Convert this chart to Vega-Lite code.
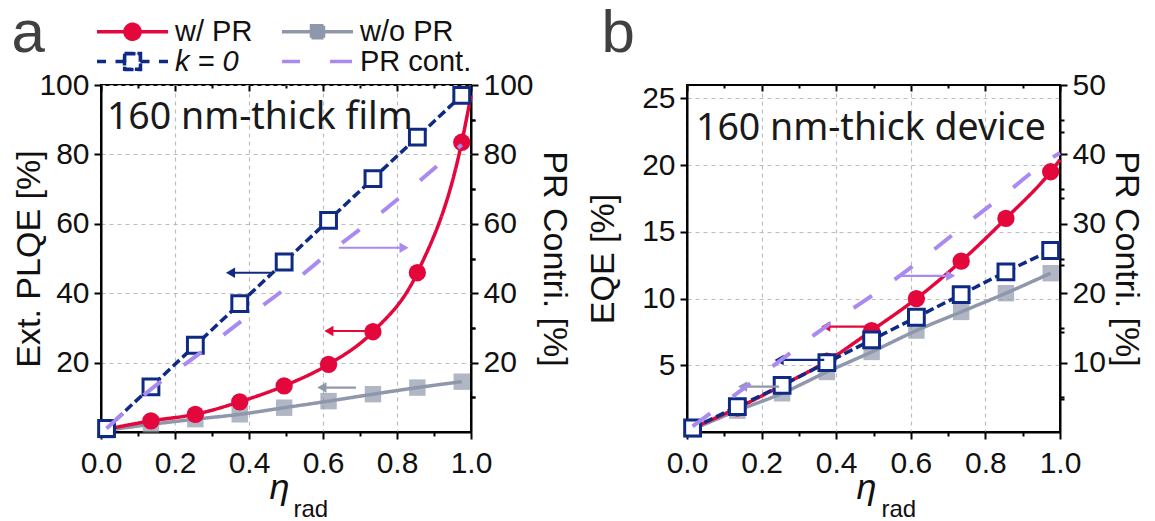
{
  "$schema": "https://vega.github.io/schema/vega-lite/v6.json",
  "background": "white",
  "padding": {"left": 10, "top": 2, "right": 4, "bottom": 0},
  "config": {
    "view": {"stroke": "black", "strokeWidth": 2},
    "font": "Liberation Sans",
    "axis": {"domainColor": "black", "domainWidth": 2, "tickColor": "black", "tickWidth": 2, "labelFont": "Liberation Sans", "labelFontSize": 30, "labelColor": "#111", "titleFont": "Liberation Sans", "titleFontSize": 34, "titleFontWeight": "normal", "titleColor": "#111", "gridColor": "#bdbdbd", "gridDash": [4, 4], "gridWidth": 1.2, "labelOverlap": false, "labelFlush": false},
    "legend": {"columnPadding": 22, "rowPadding": -2, "gridAlign": "each"},
    "concat": {"spacing": 13}
  },
  "datasets": {
    "a_main": [
      {"series": "w/o PR", "x": 0.015, "y": 0.5}, {"series": "w/o PR", "x": 0.135, "y": 2.2}, {"series": "w/o PR", "x": 0.255, "y": 3.7}, {"series": "w/o PR", "x": 0.375, "y": 5.1}, {"series": "w/o PR", "x": 0.495, "y": 7.0}, {"series": "w/o PR", "x": 0.615, "y": 8.9}, {"series": "w/o PR", "x": 0.735, "y": 10.9}, {"series": "w/o PR", "x": 0.855, "y": 12.8}, {"series": "w/o PR", "x": 0.975, "y": 14.5},
      {"series": "w/ PR", "x": 0.015, "y": 0.8}, {"series": "w/ PR", "x": 0.135, "y": 3.2}, {"series": "w/ PR", "x": 0.255, "y": 5.1}, {"series": "w/ PR", "x": 0.375, "y": 8.7}, {"series": "w/ PR", "x": 0.495, "y": 13.3}, {"series": "w/ PR", "x": 0.615, "y": 19.5}, {"series": "w/ PR", "x": 0.735, "y": 28.9}, {"series": "w/ PR", "x": 0.855, "y": 45.9}, {"series": "w/ PR", "x": 0.975, "y": 83.5}, {"series": "w/ PR", "x": 1.0, "y": 97},
      {"series": "k = 0", "x": 0.015, "y": 1}, {"series": "k = 0", "x": 0.135, "y": 13}, {"series": "k = 0", "x": 0.255, "y": 25}, {"series": "k = 0", "x": 0.375, "y": 37}, {"series": "k = 0", "x": 0.495, "y": 49}, {"series": "k = 0", "x": 0.615, "y": 61}, {"series": "k = 0", "x": 0.735, "y": 73}, {"series": "k = 0", "x": 0.855, "y": 85}, {"series": "k = 0", "x": 0.975, "y": 97}
    ],
    "a_pr": [
      {"series": "PR cont.", "x": 0.015, "y": 1}, {"series": "PR cont.", "x": 0.135, "y": 12.3}, {"series": "PR cont.", "x": 0.255, "y": 21.7}, {"series": "PR cont.", "x": 0.375, "y": 31.6}, {"series": "PR cont.", "x": 0.495, "y": 41.1}, {"series": "PR cont.", "x": 0.615, "y": 51.5}, {"series": "PR cont.", "x": 0.735, "y": 61.3}, {"series": "PR cont.", "x": 0.855, "y": 71.8}, {"series": "PR cont.", "x": 0.975, "y": 82.8}
    ],
    "a_arrows": [
      {"series": "k = 0", "xs": 0.459, "xe": 0.35, "y": 45.9, "dir": "left"},
      {"series": "PR cont.", "xs": 0.643, "xe": 0.819, "y": 53.1, "dir": "right"},
      {"series": "w/ PR", "xs": 0.719, "xe": 0.616, "y": 29.1, "dir": "left"},
      {"series": "w/o PR", "xs": 0.689, "xe": 0.597, "y": 12.8, "dir": "left"}
    ],
    "a_text": [{"label": "160 nm-thick film", "x": 0.016, "y": 90.5}],
    "b_main": [
      {"series": "w/o PR", "x": 0.015, "y": 0.2}, {"series": "w/o PR", "x": 0.135, "y": 1.6}, {"series": "w/o PR", "x": 0.255, "y": 2.9}, {"series": "w/o PR", "x": 0.375, "y": 4.5}, {"series": "w/o PR", "x": 0.495, "y": 6.0}, {"series": "w/o PR", "x": 0.615, "y": 7.6}, {"series": "w/o PR", "x": 0.735, "y": 9.0}, {"series": "w/o PR", "x": 0.855, "y": 10.4}, {"series": "w/o PR", "x": 0.975, "y": 11.9},
      {"series": "w/ PR", "x": 0.015, "y": 0.3}, {"series": "w/ PR", "x": 0.135, "y": 1.8}, {"series": "w/ PR", "x": 0.255, "y": 3.5}, {"series": "w/ PR", "x": 0.375, "y": 5.3}, {"series": "w/ PR", "x": 0.495, "y": 7.6}, {"series": "w/ PR", "x": 0.615, "y": 10.0}, {"series": "w/ PR", "x": 0.735, "y": 12.8}, {"series": "w/ PR", "x": 0.855, "y": 16.0}, {"series": "w/ PR", "x": 0.975, "y": 19.5}, {"series": "w/ PR", "x": 1.0, "y": 20.4},
      {"series": "k = 0", "x": 0.015, "y": 0.3}, {"series": "k = 0", "x": 0.135, "y": 1.9}, {"series": "k = 0", "x": 0.255, "y": 3.5}, {"series": "k = 0", "x": 0.375, "y": 5.2}, {"series": "k = 0", "x": 0.495, "y": 6.9}, {"series": "k = 0", "x": 0.615, "y": 8.6}, {"series": "k = 0", "x": 0.735, "y": 10.3}, {"series": "k = 0", "x": 0.855, "y": 12.0}, {"series": "k = 0", "x": 0.975, "y": 13.6}
    ],
    "b_pr": [
      {"series": "PR cont.", "x": 0.015, "y": 0.8}, {"series": "PR cont.", "x": 0.135, "y": 5.6}, {"series": "PR cont.", "x": 0.255, "y": 10.5}, {"series": "PR cont.", "x": 0.375, "y": 15.3}, {"series": "PR cont.", "x": 0.495, "y": 19.6}, {"series": "PR cont.", "x": 0.615, "y": 24.3}, {"series": "PR cont.", "x": 0.735, "y": 29.4}, {"series": "PR cont.", "x": 0.855, "y": 34.4}, {"series": "PR cont.", "x": 0.975, "y": 39.4}, {"series": "PR cont.", "x": 1.0, "y": 40.2}
    ],
    "b_arrows": [
      {"series": "PR cont.", "xs": 0.573, "xe": 0.707, "y": 11.7, "dir": "right"},
      {"series": "w/ PR", "xs": 0.488, "xe": 0.372, "y": 7.9, "dir": "left"},
      {"series": "k = 0", "xs": 0.368, "xe": 0.247, "y": 5.4, "dir": "left"},
      {"series": "w/o PR", "xs": 0.247, "xe": 0.149, "y": 3.4, "dir": "left"}
    ],
    "b_text": [{"label": "160 nm-thick device", "x": 0.024, "y": 22.7}]
  },
  "hconcat": [
    {
      "width": 370, "height": 347,
      "layer": [
        {
          "layer": [
            {"data": {"name": "a_main"}, "mark": {"type": "line", "strokeWidth": 3.5, "interpolate": "monotone"},
             "encoding": {
               "x": {"field": "x", "type": "quantitative", "scale": {"domain": [0, 1]}, "axis": {"orient": "bottom", "values": [0, 0.2, 0.4, 0.6, 0.8, 1], "format": ".1f", "tickSize": 7, "grid": true, "labelPadding": 9, "title": "η", "titleFontStyle": "italic", "titleFontSize": 36, "titleX": 178, "titleY": 66, "titleBaseline": "alphabetic", "titleAlign": "center"}},
               "y": {"field": "y", "type": "quantitative", "scale": {"domain": [0, 100]}, "axis": {"values": [20, 40, 60, 80, 100], "tickSize": 7, "grid": true, "labelPadding": 5, "title": "Ext. PLQE [%]", "titlePadding": -8}},
               "color": {"field": "series", "type": "nominal", "scale": {"domain": ["w/ PR", "w/o PR", "k = 0", "PR cont."], "range": ["#E3073C", "#8F97AB", "#0F2A85", "#A98AF0"]},
                 "legend": {"orient": "none", "legendX": 17, "legendY": -68, "columns": 2, "direction": "horizontal", "gridAlign": "each", "title": null, "labelFont": "Liberation Sans", "labelFontSize": 29, "labelColor": "#111", "symbolSize": 100, "symbolStrokeWidth": 3.5, "labelOffset": 28, "columnPadding": 22, "rowPadding": -2,
                   "encode": {
                     "symbols": {"update": {
                       "shape": {"signal": "datum.value === 'w/ PR' ? 'M-7.1,0H7.1M-1.5,0A1.5,1.5 0 1,0 1.5,0A1.5,1.5 0 1,0 -1.5,0Z' : datum.value === 'w/o PR' ? 'M-7.1,0H7.1M-1.2,-1.2H1.2V1.2H-1.2Z' : datum.value === 'k = 0' ? 'M-7.1,0H-5.3M-3.4,0H-1.6M1.6,0H3.4M5.3,0H7.1M-1.6,-1.6H1.6V1.6H-1.6ZM-1.57,-1.57V1.57H1.57V-1.57Z' : 'M-7.1,0H-3.5M2.5,0H7.1'"}
                     }},
                     "labels": {"update": {"fontStyle": {"signal": "datum.value === 'k = 0' ? 'italic' : 'normal'"}}}
                   }}},
               "strokeDash": {"field": "series", "type": "nominal", "scale": {"domain": ["w/ PR", "w/o PR", "k = 0", "PR cont."], "range": [[1, 0], [1, 0], [9, 4], [22, 28]]}, "legend": null}
             }},
            {"data": {"name": "a_main"}, "transform": [{"filter": "datum.series === 'w/o PR' && datum.x < 0.99"}], "mark": {"type": "square", "size": 270, "filled": true, "color": "#8F97AB"},
             "encoding": {
               "x": {"field": "x", "type": "quantitative", "axis": {"orient": "bottom", "values": [0.1, 0.3, 0.5, 0.7, 0.9], "labels": false, "domain": false, "grid": false, "tickSize": 4, "title": "rad", "titleFontSize": 24, "titleFontStyle": "normal", "titleX": 192, "titleY": 84, "titleAlign": "left", "titleBaseline": "alphabetic"}},
               "y": {"field": "y", "type": "quantitative", "axis": {"values": [10, 30, 50, 70, 90], "labels": false, "domain": false, "grid": false, "tickSize": 4, "title": null}}}},
            {"data": {"name": "a_main"}, "transform": [{"filter": "datum.series === 'w/ PR' && datum.x < 0.99"}], "mark": {"type": "circle", "size": 300, "color": "#E3073C", "opacity": 1},
             "encoding": {"x": {"field": "x", "type": "quantitative", "axis": null}, "y": {"field": "y", "type": "quantitative", "axis": null}}},
            {"data": {"name": "a_main"}, "transform": [{"filter": "datum.series === 'k = 0' && datum.x < 0.99"}], "mark": {"type": "square", "size": 250, "filled": false, "fill": "white", "stroke": "#0F2A85", "strokeWidth": 3, "opacity": 1},
             "encoding": {"x": {"field": "x", "type": "quantitative", "axis": null}, "y": {"field": "y", "type": "quantitative", "axis": null}}},
            {"data": {"name": "a_arrows"}, "mark": {"type": "rule", "strokeWidth": 2.2},
             "encoding": {"x": {"field": "xs", "type": "quantitative", "axis": null}, "x2": {"field": "xe"}, "y": {"field": "y", "type": "quantitative", "axis": null}, "color": {"field": "series", "type": "nominal"}}},
            {"data": {"name": "a_arrows"}, "mark": {"type": "point", "filled": true, "size": 110, "opacity": 1},
             "encoding": {"x": {"field": "xe", "type": "quantitative", "axis": null}, "y": {"field": "y", "type": "quantitative", "axis": null}, "color": {"field": "series", "type": "nominal"}, "shape": {"field": "dir", "type": "nominal", "scale": {"domain": ["left", "right"], "range": ["triangle-left", "triangle-right"]}, "legend": null}}},
            {"data": {"name": "a_text"}, "mark": {"type": "text", "align": "left", "baseline": "middle", "font": "Noto Sans", "fontSize": 37.5, "color": "#1a1a1a"},
             "encoding": {"x": {"field": "x", "type": "quantitative", "axis": null}, "y": {"field": "y", "type": "quantitative", "axis": null}, "text": {"field": "label"}}}
          ],
          "resolve": {"axis": {"x": "independent", "y": "independent"}}
        },
        {
          "layer": [
            {"data": {"name": "a_pr"}, "mark": {"type": "line", "strokeWidth": 4, "interpolate": "monotone"},
             "encoding": {
               "x": {"field": "x", "type": "quantitative", "scale": {"domain": [0, 1]}, "axis": {"orient": "top", "values": [0, 0.1, 0.2, 0.3, 0.4, 0.5, 0.6, 0.7, 0.8, 0.9, 1], "labels": false, "domain": false, "grid": false, "tickSize": {"condition": {"test": "round(datum.value*10) % 2 === 1", "value": -3}, "value": -6}, "title": "a", "titleFont": "Liberation Sans", "titleFontSize": 60, "titleColor": "#404040", "titleAngle": 0, "titleX": -90, "titleY": -34, "titleAlign": "left", "titleBaseline": "alphabetic"}},
               "y": {"field": "y", "type": "quantitative", "scale": {"domain": [0, 100]}, "axis": {"orient": "right", "values": [10, 20, 30, 40, 50, 60, 70, 80, 90, 100], "labelExpr": "datum.value % 20 === 0 ? datum.label : ''", "tickSize": {"condition": {"test": "datum.value % 20 !== 0", "value": 4}, "value": 7}, "grid": false, "labelPadding": 5, "title": "PR Contri. [%]", "titlePadding": 3.5}},
               "color": {"field": "series", "type": "nominal"},
               "strokeDash": {"field": "series", "type": "nominal", "legend": null}
             }}
          ]
        }
      ],
      "resolve": {"scale": {"y": "independent"}, "axis": {"x": "independent"}}
    },
    {
      "width": 373, "height": 347,
      "layer": [
        {
          "layer": [
            {"data": {"name": "b_main"}, "mark": {"type": "line", "strokeWidth": 3.5, "interpolate": "monotone"},
             "encoding": {
               "x": {"field": "x", "type": "quantitative", "scale": {"domain": [0, 1]}, "axis": {"orient": "bottom", "values": [0, 0.2, 0.4, 0.6, 0.8, 1], "format": ".1f", "tickSize": 7, "grid": true, "labelPadding": 9, "title": "η", "titleFontStyle": "italic", "titleFontSize": 36, "titleX": 179, "titleY": 66, "titleBaseline": "alphabetic", "titleAlign": "center"}},
               "y": {"field": "y", "type": "quantitative", "scale": {"domain": [0, 25]}, "axis": {"values": [5, 10, 15, 20, 25], "tickSize": 7, "grid": true, "labelPadding": 5, "title": "EQE [%]", "titlePadding": 21}},
               "color": {"field": "series", "type": "nominal"},
               "strokeDash": {"field": "series", "type": "nominal", "legend": null}
             }},
            {"data": {"name": "b_main"}, "transform": [{"filter": "datum.series === 'w/o PR' && datum.x < 0.99"}], "mark": {"type": "square", "size": 270, "filled": true, "color": "#8F97AB"},
             "encoding": {
               "x": {"field": "x", "type": "quantitative", "axis": {"orient": "bottom", "values": [0.1, 0.3, 0.5, 0.7, 0.9], "labels": false, "domain": false, "grid": false, "tickSize": 4, "title": "rad", "titleFontSize": 24, "titleFontStyle": "normal", "titleX": 194, "titleY": 84, "titleAlign": "left", "titleBaseline": "alphabetic"}},
               "y": {"field": "y", "type": "quantitative", "axis": {"values": [2.5, 7.5, 12.5, 17.5, 22.5], "labels": false, "domain": false, "grid": false, "tickSize": 4, "title": null}}}},
            {"data": {"name": "b_main"}, "transform": [{"filter": "datum.series === 'w/ PR' && datum.x < 0.99"}], "mark": {"type": "circle", "size": 300, "color": "#E3073C", "opacity": 1},
             "encoding": {"x": {"field": "x", "type": "quantitative", "axis": null}, "y": {"field": "y", "type": "quantitative", "axis": null}}},
            {"data": {"name": "b_main"}, "transform": [{"filter": "datum.series === 'k = 0' && datum.x < 0.99"}], "mark": {"type": "square", "size": 250, "filled": false, "fill": "white", "stroke": "#0F2A85", "strokeWidth": 3, "opacity": 1},
             "encoding": {"x": {"field": "x", "type": "quantitative", "axis": null}, "y": {"field": "y", "type": "quantitative", "axis": null}}},
            {"data": {"name": "b_arrows"}, "mark": {"type": "rule", "strokeWidth": 2.2},
             "encoding": {"x": {"field": "xs", "type": "quantitative", "axis": null}, "x2": {"field": "xe"}, "y": {"field": "y", "type": "quantitative", "axis": null}, "color": {"field": "series", "type": "nominal"}}},
            {"data": {"name": "b_arrows"}, "mark": {"type": "point", "filled": true, "size": 110, "opacity": 1},
             "encoding": {"x": {"field": "xe", "type": "quantitative", "axis": null}, "y": {"field": "y", "type": "quantitative", "axis": null}, "color": {"field": "series", "type": "nominal"}, "shape": {"field": "dir", "type": "nominal", "legend": null}}},
            {"data": {"name": "b_text"}, "mark": {"type": "text", "align": "left", "baseline": "middle", "font": "Noto Sans", "fontSize": 37.5, "color": "#1a1a1a"},
             "encoding": {"x": {"field": "x", "type": "quantitative", "axis": null}, "y": {"field": "y", "type": "quantitative", "axis": null}, "text": {"field": "label"}}}
          ],
          "resolve": {"axis": {"x": "independent", "y": "independent"}}
        },
        {
          "layer": [
            {"data": {"name": "b_pr"}, "mark": {"type": "line", "strokeWidth": 4, "interpolate": "monotone"},
             "encoding": {
               "x": {"field": "x", "type": "quantitative", "scale": {"domain": [0, 1]}, "axis": {"orient": "top", "values": [0, 0.1, 0.2, 0.3, 0.4, 0.5, 0.6, 0.7, 0.8, 0.9, 1], "labels": false, "domain": false, "grid": false, "tickSize": {"condition": {"test": "round(datum.value*10) % 2 === 1", "value": -3}, "value": -6}, "title": "b", "titleFont": "Liberation Sans", "titleFontSize": 60, "titleColor": "#404040", "titleAngle": 0, "titleX": -86, "titleY": -34, "titleAlign": "left", "titleBaseline": "alphabetic"}},
               "y": {"field": "y", "type": "quantitative", "scale": {"domain": [0, 50]}, "axis": {"orient": "right", "values": [5, 10, 15, 20, 25, 30, 35, 40, 45, 50], "labelExpr": "datum.value % 10 === 0 ? datum.label : ''", "tickSize": {"condition": {"test": "datum.value % 10 !== 0", "value": 4}, "value": 7}, "grid": false, "labelPadding": 5, "title": "PR Contri. [%]", "titlePadding": 3.5}},
               "color": {"field": "series", "type": "nominal"},
               "strokeDash": {"field": "series", "type": "nominal", "legend": null}
             }}
          ]
        }
      ],
      "resolve": {"scale": {"y": "independent"}, "axis": {"x": "independent"}}
    }
  ]
}
